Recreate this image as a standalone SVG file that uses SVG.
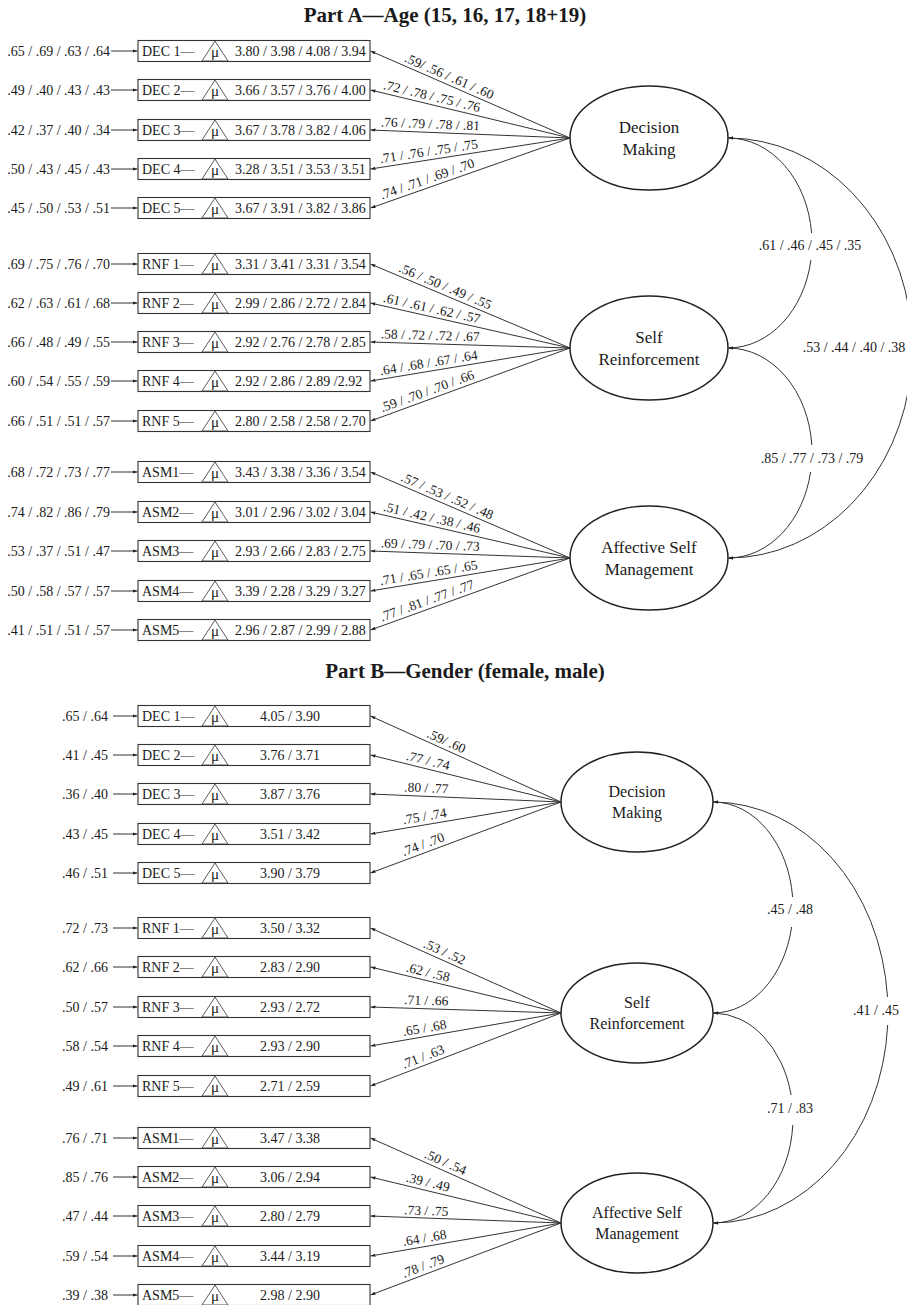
<svg xmlns="http://www.w3.org/2000/svg" width="907" height="1305" viewBox="0 0 907 1305">
<style>
text{font-family:"Liberation Serif","Times New Roman",serif;fill:#1a1a1a}
.title{font-size:21px;font-weight:bold;text-anchor:middle}
.t{font-size:14px}
.r{font-size:14px;text-anchor:end}
.mu{font-size:15px;text-anchor:middle}
.ld{font-size:13.5px;text-anchor:middle}
.cv{font-size:14px;text-anchor:middle}
.lat{font-size:17px;text-anchor:middle}
.latb{font-size:16px;text-anchor:middle}
.box{fill:#fff;stroke:#333;stroke-width:1.1}
.tri{fill:none;stroke:#333;stroke-width:0.8}
.ell{fill:#fff;stroke:#222;stroke-width:1.5}
.ln{fill:none;stroke:#333;stroke-width:1}
.la{marker-end:url(#ah)}
.cs{marker-start:url(#ah)}
</style>
<defs>
<marker id="ah" viewBox="0 0 6 4" refX="6" refY="2" markerWidth="5" markerHeight="3.5" markerUnits="userSpaceOnUse" orient="auto-start-reverse"><path d="M0,0 L6,2 L0,4 z" fill="#222"/></marker>
</defs>
<rect width="907" height="1305" fill="#fff"/>
<text class="title" x="445" y="22">Part A—Age (15, 16, 17, 18+19)</text>
<text class="title" x="465" y="678">Part B—Gender (female, male)</text>

<g id="connectors">
<g class="ln la">
<line x1="111" y1="51" x2="137.5" y2="51"/><line x1="111" y1="90" x2="137.5" y2="90"/><line x1="111" y1="130" x2="137.5" y2="130"/><line x1="111" y1="169" x2="137.5" y2="169"/><line x1="111" y1="208" x2="137.5" y2="208"/>
<line x1="111" y1="264" x2="137.5" y2="264"/><line x1="111" y1="303" x2="137.5" y2="303"/><line x1="111" y1="342" x2="137.5" y2="342"/><line x1="111" y1="381" x2="137.5" y2="381"/><line x1="111" y1="421" x2="137.5" y2="421"/>
<line x1="111" y1="472" x2="137.5" y2="472"/><line x1="111" y1="512" x2="137.5" y2="512"/><line x1="111" y1="551" x2="137.5" y2="551"/><line x1="111" y1="591" x2="137.5" y2="591"/><line x1="111" y1="630" x2="137.5" y2="630"/>
<line x1="113" y1="716" x2="137.5" y2="716"/><line x1="113" y1="755" x2="137.5" y2="755"/><line x1="113" y1="794" x2="137.5" y2="794"/><line x1="113" y1="834" x2="137.5" y2="834"/><line x1="113" y1="873" x2="137.5" y2="873"/>
<line x1="113" y1="928" x2="137.5" y2="928"/><line x1="113" y1="967" x2="137.5" y2="967"/><line x1="113" y1="1007" x2="137.5" y2="1007"/><line x1="113" y1="1046" x2="137.5" y2="1046"/><line x1="113" y1="1086" x2="137.5" y2="1086"/>
<line x1="113" y1="1138" x2="137.5" y2="1138"/><line x1="113" y1="1177" x2="137.5" y2="1177"/><line x1="113" y1="1216" x2="137.5" y2="1216"/><line x1="113" y1="1256" x2="137.5" y2="1256"/><line x1="113" y1="1295" x2="137.5" y2="1295"/>
<line x1="570" y1="138" x2="370.5" y2="51"/><line x1="570" y1="138" x2="370.5" y2="90"/><line x1="570" y1="138" x2="370.5" y2="130"/><line x1="570" y1="138" x2="370.5" y2="169"/><line x1="570" y1="138" x2="370.5" y2="208"/>
<line x1="570" y1="348" x2="370.5" y2="264"/><line x1="570" y1="348" x2="370.5" y2="303"/><line x1="570" y1="348" x2="370.5" y2="342"/><line x1="570" y1="348" x2="370.5" y2="381"/><line x1="570" y1="348" x2="370.5" y2="421"/>
<line x1="570" y1="558" x2="370.5" y2="472"/><line x1="570" y1="558" x2="370.5" y2="512"/><line x1="570" y1="558" x2="370.5" y2="551"/><line x1="570" y1="558" x2="370.5" y2="591"/><line x1="570" y1="558" x2="370.5" y2="630"/>
<line x1="561" y1="802" x2="370.5" y2="716"/><line x1="561" y1="802" x2="370.5" y2="755"/><line x1="561" y1="802" x2="370.5" y2="794"/><line x1="561" y1="802" x2="370.5" y2="834"/><line x1="561" y1="802" x2="370.5" y2="873"/>
<line x1="561" y1="1013" x2="370.5" y2="928"/><line x1="561" y1="1013" x2="370.5" y2="967"/><line x1="561" y1="1013" x2="370.5" y2="1007"/><line x1="561" y1="1013" x2="370.5" y2="1046"/><line x1="561" y1="1013" x2="370.5" y2="1086"/>
<line x1="561" y1="1223" x2="370.5" y2="1138"/><line x1="561" y1="1223" x2="370.5" y2="1177"/><line x1="561" y1="1223" x2="370.5" y2="1216"/><line x1="561" y1="1223" x2="370.5" y2="1256"/><line x1="561" y1="1223" x2="370.5" y2="1295"/>
</g>
<path class="ln cs" d="M728.5,138 A84,105 0 0 1 811.6,233"/>
<path class="ln la" d="M810.9,260 A84,105 0 0 1 728.5,348"/>
<path class="ln cs" d="M728.5,348 A84,105 0 0 1 811.8,445"/>
<path class="ln la" d="M810.6,472 A84,105 0 0 1 728.5,558"/>
<path class="ln cs" d="M728.5,138 A184,210 0 0 1 911.4,328"/>
<path class="ln la" d="M911.2,370 A184,210 0 0 1 728.5,558"/>
<path class="ln cs" d="M713.5,802 A80,105.5 0 0 1 792.6,897"/>
<path class="ln la" d="M791.6,927 A80,105.5 0 0 1 713.5,1013"/>
<path class="ln cs" d="M713.5,1013 A80,105 0 0 1 791.1,1095"/>
<path class="ln la" d="M792.8,1125 A80,105 0 0 1 713.5,1223"/>
<path class="ln cs" d="M713.5,802 A175,210.5 0 0 1 887.5,997"/>
<path class="ln la" d="M887.7,1025 A175,210.5 0 0 1 713.5,1223"/>
</g>

<g id="residual-labels">
<text class="r" x="110" y="56">.65 / .69 / .63 / .64</text>
<text class="r" x="110" y="95">.49 / .40 / .43 / .43</text>
<text class="r" x="110" y="135">.42 / .37 / .40 / .34</text>
<text class="r" x="110" y="174">.50 / .43 / .45 / .43</text>
<text class="r" x="110" y="213">.45 / .50 / .53 / .51</text>
<text class="r" x="110" y="269">.69 / .75 / .76 / .70</text>
<text class="r" x="110" y="308">.62 / .63 / .61 / .68</text>
<text class="r" x="110" y="347">.66 / .48 / .49 / .55</text>
<text class="r" x="110" y="386">.60 / .54 / .55 / .59</text>
<text class="r" x="110" y="426">.66 / .51 / .51 / .57</text>
<text class="r" x="110" y="477">.68 / .72 / .73 / .77</text>
<text class="r" x="110" y="517">.74 / .82 / .86 / .79</text>
<text class="r" x="110" y="556">.53 / .37 / .51 / .47</text>
<text class="r" x="110" y="596">.50 / .58 / .57 / .57</text>
<text class="r" x="110" y="635">.41 / .51 / .51 / .57</text>
<text class="r" x="108" y="721">.65 / .64</text>
<text class="r" x="108" y="760">.41 / .45</text>
<text class="r" x="108" y="799">.36 / .40</text>
<text class="r" x="108" y="839">.43 / .45</text>
<text class="r" x="108" y="878">.46 / .51</text>
<text class="r" x="108" y="933">.72 / .73</text>
<text class="r" x="108" y="972">.62 / .66</text>
<text class="r" x="108" y="1012">.50 / .57</text>
<text class="r" x="108" y="1051">.58 / .54</text>
<text class="r" x="108" y="1091">.49 / .61</text>
<text class="r" x="108" y="1143">.76 / .71</text>
<text class="r" x="108" y="1182">.85 / .76</text>
<text class="r" x="108" y="1221">.47 / .44</text>
<text class="r" x="108" y="1261">.59 / .54</text>
<text class="r" x="108" y="1300">.39 / .38</text>
</g>

<g id="loading-labels">
<text class="ld" transform="translate(446,84.1) rotate(23.51)" y="-4">.59/ .56 / .61 / .60</text>
<text class="ld" transform="translate(430,104.4) rotate(13.5)" y="-4">.72 / .78 / .75 / .76</text>
<text class="ld" transform="translate(430,132.4) rotate(2.29)" y="-4">.76 / .79 / .78 / .81</text>
<text class="ld" transform="translate(430,159.7) rotate(-8.81)" y="-4">.71 / .76 / .75 / .75</text>
<text class="ld" transform="translate(430,187) rotate(-19.29)" y="-4">.74 / .71 / .69 / .70</text>
<text class="ld" transform="translate(442,294.2) rotate(22.78)" y="-4">.56 / .50 / .49 / .55</text>
<text class="ld" transform="translate(430,316.5) rotate(12.68)" y="-4">.61 / .61 / .62 / .57</text>
<text class="ld" transform="translate(430,343.8) rotate(1.72)" y="-4">.58 / .72 / .72 / .67</text>
<text class="ld" transform="translate(430,371.1) rotate(-9.37)" y="-4">.64 / .68 / .67 / .64</text>
<text class="ld" transform="translate(430,399.1) rotate(-20.06)" y="-4">.59 / .70 / .70 / .66</text>
<text class="ld" transform="translate(444,503.8) rotate(23.27)" y="-4">.57 / .53 / .52 / .48</text>
<text class="ld" transform="translate(430,525.8) rotate(12.95)" y="-4">.51 / .42 / .38 / .46</text>
<text class="ld" transform="translate(430,553.1) rotate(2)" y="-4">.69 / .79 / .70 / .73</text>
<text class="ld" transform="translate(430,581.1) rotate(-9.37)" y="-4">.71 / .65 / .65 / .65</text>
<text class="ld" transform="translate(430,608.4) rotate(-19.8)" y="-4">.77 / .81 / .77 / .77</text>
<text class="ld" transform="translate(443,748.9) rotate(24.24)" y="-4">.59/ .60</text>
<text class="ld" transform="translate(426,768.8) rotate(13.82)" y="-4">.77 / .74</text>
<text class="ld" transform="translate(426,796.3) rotate(2.4)" y="-4">.80 / .77</text>
<text class="ld" transform="translate(426,824.6) rotate(-9.51)" y="-4">.75 / .74</text>
<text class="ld" transform="translate(426,852.2) rotate(-20.39)" y="-4">.74 / .70</text>
<text class="ld" transform="translate(441,959.6) rotate(23.99)" y="-4">.53 / .52</text>
<text class="ld" transform="translate(426,980.5) rotate(13.54)" y="-4">.62 / .58</text>
<text class="ld" transform="translate(426,1008.8) rotate(1.8)" y="-4">.71 / .66</text>
<text class="ld" transform="translate(426,1036.3) rotate(-9.8)" y="-4">.65 / .68</text>
<text class="ld" transform="translate(426,1064.6) rotate(-20.92)" y="-4">.71 / .63</text>
<text class="ld" transform="translate(442,1170) rotate(23.99)" y="-4">.50 / .54</text>
<text class="ld" transform="translate(426,1190.5) rotate(13.54)" y="-4">.39 / .49</text>
<text class="ld" transform="translate(426,1219.1) rotate(2.1)" y="-4">.73 / .75</text>
<text class="ld" transform="translate(426,1246.3) rotate(-9.8)" y="-4">.64 / .68</text>
<text class="ld" transform="translate(426,1273.9) rotate(-20.66)" y="-4">.78 / .79</text>
</g>

<g id="covariance-labels">
<text class="cv" x="810" y="250">.61 / .46 / .45 / .35</text>
<text class="cv" x="812" y="463">.85 / .77 / .73 / .79</text>
<text class="cv" x="854" y="352">.53 / .44 / .40 / .38</text>
<text class="cv" x="790" y="914">.45 / .48</text>
<text class="cv" x="790" y="1113">.71 / .83</text>
<text class="cv" x="876" y="1015">.41 / .45</text>
</g>

<g id="A-DM"><ellipse class="ell" cx="649" cy="138" rx="79" ry="52"/><text class="lat" x="649" y="133">Decision</text><text class="lat" x="649" y="155">Making</text></g>
<g id="A-SR"><ellipse class="ell" cx="649" cy="348" rx="79" ry="52"/><text class="lat" x="649" y="343">Self</text><text class="lat" x="649" y="365">Reinforcement</text></g>
<g id="A-ASM"><ellipse class="ell" cx="649" cy="558" rx="79" ry="52"/><text class="lat" x="649" y="553">Affective Self</text><text class="lat" x="649" y="575">Management</text></g>
<g id="B-DM"><ellipse class="ell" cx="637" cy="802" rx="76" ry="50"/><text class="latb" x="637" y="797">Decision</text><text class="latb" x="637" y="818">Making</text></g>
<g id="B-SR"><ellipse class="ell" cx="637" cy="1013" rx="76" ry="50"/><text class="latb" x="637" y="1008">Self</text><text class="latb" x="637" y="1029">Reinforcement</text></g>
<g id="B-ASM"><ellipse class="ell" cx="637" cy="1223" rx="76" ry="50"/><text class="latb" x="637" y="1218">Affective Self</text><text class="latb" x="637" y="1239">Management</text></g>

<g id="A-DEC1"><rect class="box" x="138" y="40.5" width="232" height="21"/><text class="t" x="142" y="56">DEC 1—</text><polygon class="tri" points="202,61 228,61 215,41"/><text class="mu" x="215" y="57">μ</text><text class="t" x="235" y="56">3.80 / 3.98 / 4.08 / 3.94</text></g>
<g id="A-DEC2"><rect class="box" x="138" y="79.5" width="232" height="21"/><text class="t" x="142" y="95">DEC 2—</text><polygon class="tri" points="202,100 228,100 215,80"/><text class="mu" x="215" y="96">μ</text><text class="t" x="235" y="95">3.66 / 3.57 / 3.76 / 4.00</text></g>
<g id="A-DEC3"><rect class="box" x="138" y="119.5" width="232" height="21"/><text class="t" x="142" y="135">DEC 3—</text><polygon class="tri" points="202,140 228,140 215,120"/><text class="mu" x="215" y="136">μ</text><text class="t" x="235" y="135">3.67 / 3.78 / 3.82 / 4.06</text></g>
<g id="A-DEC4"><rect class="box" x="138" y="158.5" width="232" height="21"/><text class="t" x="142" y="174">DEC 4—</text><polygon class="tri" points="202,179 228,179 215,159"/><text class="mu" x="215" y="175">μ</text><text class="t" x="235" y="174">3.28 / 3.51 / 3.53 / 3.51</text></g>
<g id="A-DEC5"><rect class="box" x="138" y="197.5" width="232" height="21"/><text class="t" x="142" y="213">DEC 5—</text><polygon class="tri" points="202,218 228,218 215,198"/><text class="mu" x="215" y="214">μ</text><text class="t" x="235" y="213">3.67 / 3.91 / 3.82 / 3.86</text></g>
<g id="A-RNF1"><rect class="box" x="138" y="253.5" width="232" height="21"/><text class="t" x="142" y="269">RNF 1—</text><polygon class="tri" points="202,274 228,274 215,254"/><text class="mu" x="215" y="270">μ</text><text class="t" x="235" y="269">3.31 / 3.41 / 3.31 / 3.54</text></g>
<g id="A-RNF2"><rect class="box" x="138" y="292.5" width="232" height="21"/><text class="t" x="142" y="308">RNF 2—</text><polygon class="tri" points="202,313 228,313 215,293"/><text class="mu" x="215" y="309">μ</text><text class="t" x="235" y="308">2.99 / 2.86 / 2.72 / 2.84</text></g>
<g id="A-RNF3"><rect class="box" x="138" y="331.5" width="232" height="21"/><text class="t" x="142" y="347">RNF 3—</text><polygon class="tri" points="202,352 228,352 215,332"/><text class="mu" x="215" y="348">μ</text><text class="t" x="235" y="347">2.92 / 2.76 / 2.78 / 2.85</text></g>
<g id="A-RNF4"><rect class="box" x="138" y="370.5" width="232" height="21"/><text class="t" x="142" y="386">RNF 4—</text><polygon class="tri" points="202,391 228,391 215,371"/><text class="mu" x="215" y="387">μ</text><text class="t" x="235" y="386">2.92 / 2.86 / 2.89 /2.92</text></g>
<g id="A-RNF5"><rect class="box" x="138" y="410.5" width="232" height="21"/><text class="t" x="142" y="426">RNF 5—</text><polygon class="tri" points="202,431 228,431 215,411"/><text class="mu" x="215" y="427">μ</text><text class="t" x="235" y="426">2.80 / 2.58 / 2.58 / 2.70</text></g>
<g id="A-ASM1"><rect class="box" x="138" y="461.5" width="232" height="21"/><text class="t" x="142" y="477">ASM1—</text><polygon class="tri" points="202,482 228,482 215,462"/><text class="mu" x="215" y="478">μ</text><text class="t" x="235" y="477">3.43 / 3.38 / 3.36 / 3.54</text></g>
<g id="A-ASM2"><rect class="box" x="138" y="501.5" width="232" height="21"/><text class="t" x="142" y="517">ASM2—</text><polygon class="tri" points="202,522 228,522 215,502"/><text class="mu" x="215" y="518">μ</text><text class="t" x="235" y="517">3.01 / 2.96 / 3.02 / 3.04</text></g>
<g id="A-ASM3"><rect class="box" x="138" y="540.5" width="232" height="21"/><text class="t" x="142" y="556">ASM3—</text><polygon class="tri" points="202,561 228,561 215,541"/><text class="mu" x="215" y="557">μ</text><text class="t" x="235" y="556">2.93 / 2.66 / 2.83 / 2.75</text></g>
<g id="A-ASM4"><rect class="box" x="138" y="580.5" width="232" height="21"/><text class="t" x="142" y="596">ASM4—</text><polygon class="tri" points="202,601 228,601 215,581"/><text class="mu" x="215" y="597">μ</text><text class="t" x="235" y="596">3.39 / 2.28 / 3.29 / 3.27</text></g>
<g id="A-ASM5"><rect class="box" x="138" y="619.5" width="232" height="21"/><text class="t" x="142" y="635">ASM5—</text><polygon class="tri" points="202,640 228,640 215,620"/><text class="mu" x="215" y="636">μ</text><text class="t" x="235" y="635">2.96 / 2.87 / 2.99 / 2.88</text></g>

<g id="B-DEC1"><rect class="box" x="138" y="705.5" width="232" height="21"/><text class="t" x="142" y="721">DEC 1—</text><polygon class="tri" points="202,726 228,726 215,706"/><text class="mu" x="215" y="722">μ</text><text class="t" x="260" y="721">4.05 / 3.90</text></g>
<g id="B-DEC2"><rect class="box" x="138" y="744.5" width="232" height="21"/><text class="t" x="142" y="760">DEC 2—</text><polygon class="tri" points="202,765 228,765 215,745"/><text class="mu" x="215" y="761">μ</text><text class="t" x="260" y="760">3.76 / 3.71</text></g>
<g id="B-DEC3"><rect class="box" x="138" y="783.5" width="232" height="21"/><text class="t" x="142" y="799">DEC 3—</text><polygon class="tri" points="202,804 228,804 215,784"/><text class="mu" x="215" y="800">μ</text><text class="t" x="260" y="799">3.87 / 3.76</text></g>
<g id="B-DEC4"><rect class="box" x="138" y="823.5" width="232" height="21"/><text class="t" x="142" y="839">DEC 4—</text><polygon class="tri" points="202,844 228,844 215,824"/><text class="mu" x="215" y="840">μ</text><text class="t" x="260" y="839">3.51 / 3.42</text></g>
<g id="B-DEC5"><rect class="box" x="138" y="862.5" width="232" height="21"/><text class="t" x="142" y="878">DEC 5—</text><polygon class="tri" points="202,883 228,883 215,863"/><text class="mu" x="215" y="879">μ</text><text class="t" x="260" y="878">3.90 / 3.79</text></g>
<g id="B-RNF1"><rect class="box" x="138" y="917.5" width="232" height="21"/><text class="t" x="142" y="933">RNF 1—</text><polygon class="tri" points="202,938 228,938 215,918"/><text class="mu" x="215" y="934">μ</text><text class="t" x="260" y="933">3.50 / 3.32</text></g>
<g id="B-RNF2"><rect class="box" x="138" y="956.5" width="232" height="21"/><text class="t" x="142" y="972">RNF 2—</text><polygon class="tri" points="202,977 228,977 215,957"/><text class="mu" x="215" y="973">μ</text><text class="t" x="260" y="972">2.83 / 2.90</text></g>
<g id="B-RNF3"><rect class="box" x="138" y="996.5" width="232" height="21"/><text class="t" x="142" y="1012">RNF 3—</text><polygon class="tri" points="202,1017 228,1017 215,997"/><text class="mu" x="215" y="1013">μ</text><text class="t" x="260" y="1012">2.93 / 2.72</text></g>
<g id="B-RNF4"><rect class="box" x="138" y="1035.5" width="232" height="21"/><text class="t" x="142" y="1051">RNF 4—</text><polygon class="tri" points="202,1056 228,1056 215,1036"/><text class="mu" x="215" y="1052">μ</text><text class="t" x="260" y="1051">2.93 / 2.90</text></g>
<g id="B-RNF5"><rect class="box" x="138" y="1075.5" width="232" height="21"/><text class="t" x="142" y="1091">RNF 5—</text><polygon class="tri" points="202,1096 228,1096 215,1076"/><text class="mu" x="215" y="1092">μ</text><text class="t" x="260" y="1091">2.71 / 2.59</text></g>
<g id="B-ASM1"><rect class="box" x="138" y="1127.5" width="232" height="21"/><text class="t" x="142" y="1143">ASM1—</text><polygon class="tri" points="202,1148 228,1148 215,1128"/><text class="mu" x="215" y="1144">μ</text><text class="t" x="260" y="1143">3.47 / 3.38</text></g>
<g id="B-ASM2"><rect class="box" x="138" y="1166.5" width="232" height="21"/><text class="t" x="142" y="1182">ASM2—</text><polygon class="tri" points="202,1187 228,1187 215,1167"/><text class="mu" x="215" y="1183">μ</text><text class="t" x="260" y="1182">3.06 / 2.94</text></g>
<g id="B-ASM3"><rect class="box" x="138" y="1205.5" width="232" height="21"/><text class="t" x="142" y="1221">ASM3—</text><polygon class="tri" points="202,1226 228,1226 215,1206"/><text class="mu" x="215" y="1222">μ</text><text class="t" x="260" y="1221">2.80 / 2.79</text></g>
<g id="B-ASM4"><rect class="box" x="138" y="1245.5" width="232" height="21"/><text class="t" x="142" y="1261">ASM4—</text><polygon class="tri" points="202,1266 228,1266 215,1246"/><text class="mu" x="215" y="1262">μ</text><text class="t" x="260" y="1261">3.44 / 3.19</text></g>
<g id="B-ASM5"><rect class="box" x="138" y="1284.5" width="232" height="21"/><text class="t" x="142" y="1300">ASM5—</text><polygon class="tri" points="202,1305 228,1305 215,1285"/><text class="mu" x="215" y="1301">μ</text><text class="t" x="260" y="1300">2.98 / 2.90</text></g>
</svg>
